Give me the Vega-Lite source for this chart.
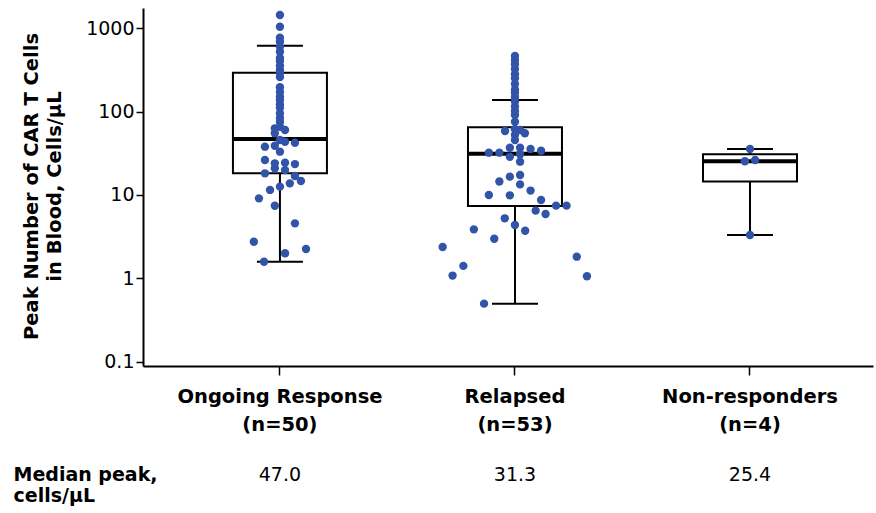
{
  "$schema": "https://vega.github.io/schema/vega-lite/v6.json",
  "width": 730,
  "height": 358,
  "autosize": {"type": "none"},
  "padding": {"left": 143, "top": 8, "right": 3, "bottom": 147},
  "background": "white",
  "config": {
    "view": {"stroke": null},
    "font": "DejaVu Sans",
    "axis": {"labelFont": "DejaVu Sans", "titleFont": "DejaVu Sans", "domainColor": "black", "tickColor": "black", "labelColor": "black", "titleColor": "black", "grid": false}
  },
  "datasets": {
    "boxes": [
      {"group": "Ongoing Response (n=50)", "medianLabel": "47.0", "lower": 1.58, "q1": 18.2, "median": 47.0, "q3": 293, "upper": 618},
      {"group": "Relapsed (n=53)", "medianLabel": "31.3", "lower": 0.497, "q1": 7.38, "median": 31.3, "q3": 64.9, "upper": 138},
      {"group": "Non-responders (n=4)", "medianLabel": "25.4", "lower": 3.31, "q1": 14.5, "median": 25.4, "q3": 30.8, "upper": 35.6}
    ],
    "points": [
      {"group": "Ongoing Response (n=50)", "value": 1445, "jitter": 0},
      {"group": "Ongoing Response (n=50)", "value": 1045, "jitter": 0},
      {"group": "Ongoing Response (n=50)", "value": 771, "jitter": 0},
      {"group": "Ongoing Response (n=50)", "value": 690, "jitter": 0},
      {"group": "Ongoing Response (n=50)", "value": 601, "jitter": 0},
      {"group": "Ongoing Response (n=50)", "value": 524, "jitter": 0},
      {"group": "Ongoing Response (n=50)", "value": 440, "jitter": 0},
      {"group": "Ongoing Response (n=50)", "value": 405, "jitter": 0},
      {"group": "Ongoing Response (n=50)", "value": 356, "jitter": 0},
      {"group": "Ongoing Response (n=50)", "value": 316, "jitter": 0},
      {"group": "Ongoing Response (n=50)", "value": 289, "jitter": 0},
      {"group": "Ongoing Response (n=50)", "value": 260, "jitter": 0},
      {"group": "Ongoing Response (n=50)", "value": 196, "jitter": 0},
      {"group": "Ongoing Response (n=50)", "value": 172, "jitter": 0},
      {"group": "Ongoing Response (n=50)", "value": 151, "jitter": 0},
      {"group": "Ongoing Response (n=50)", "value": 138, "jitter": 0},
      {"group": "Ongoing Response (n=50)", "value": 122, "jitter": 0},
      {"group": "Ongoing Response (n=50)", "value": 111, "jitter": 0},
      {"group": "Ongoing Response (n=50)", "value": 95.5, "jitter": 0},
      {"group": "Ongoing Response (n=50)", "value": 83.9, "jitter": 0},
      {"group": "Ongoing Response (n=50)", "value": 75.1, "jitter": 0},
      {"group": "Ongoing Response (n=50)", "value": 65.9, "jitter": 0},
      {"group": "Ongoing Response (n=50)", "value": 63.1, "jitter": -0.17},
      {"group": "Ongoing Response (n=50)", "value": 60.2, "jitter": 0.17},
      {"group": "Ongoing Response (n=50)", "value": 55.0, "jitter": -0.17},
      {"group": "Ongoing Response (n=50)", "value": 43.6, "jitter": 0.17},
      {"group": "Ongoing Response (n=50)", "value": 45.7, "jitter": 0},
      {"group": "Ongoing Response (n=50)", "value": 39.0, "jitter": -0.17},
      {"group": "Ongoing Response (n=50)", "value": 38.0, "jitter": -0.5},
      {"group": "Ongoing Response (n=50)", "value": 42.4, "jitter": 0.5},
      {"group": "Ongoing Response (n=50)", "value": 33.1, "jitter": 0},
      {"group": "Ongoing Response (n=50)", "value": 26.3, "jitter": -0.5},
      {"group": "Ongoing Response (n=50)", "value": 24.0, "jitter": -0.17},
      {"group": "Ongoing Response (n=50)", "value": 24.4, "jitter": 0.17},
      {"group": "Ongoing Response (n=50)", "value": 23.5, "jitter": 0.5},
      {"group": "Ongoing Response (n=50)", "value": 20.9, "jitter": -0.17},
      {"group": "Ongoing Response (n=50)", "value": 19.9, "jitter": 0.17},
      {"group": "Ongoing Response (n=50)", "value": 18.2, "jitter": -0.5},
      {"group": "Ongoing Response (n=50)", "value": 16.9, "jitter": 0.5},
      {"group": "Ongoing Response (n=50)", "value": 14.7, "jitter": 0.7},
      {"group": "Ongoing Response (n=50)", "value": 13.8, "jitter": 0.33},
      {"group": "Ongoing Response (n=50)", "value": 12.6, "jitter": 0},
      {"group": "Ongoing Response (n=50)", "value": 11.5, "jitter": -0.33},
      {"group": "Ongoing Response (n=50)", "value": 9.12, "jitter": -0.7},
      {"group": "Ongoing Response (n=50)", "value": 7.44, "jitter": -0.17},
      {"group": "Ongoing Response (n=50)", "value": 4.57, "jitter": 0.5},
      {"group": "Ongoing Response (n=50)", "value": 2.75, "jitter": -0.87},
      {"group": "Ongoing Response (n=50)", "value": 2.25, "jitter": 0.87},
      {"group": "Ongoing Response (n=50)", "value": 2.0, "jitter": 0.17},
      {"group": "Ongoing Response (n=50)", "value": 1.58, "jitter": -0.53},
      {"group": "Relapsed (n=53)", "value": 466, "jitter": 0},
      {"group": "Relapsed (n=53)", "value": 417, "jitter": 0},
      {"group": "Relapsed (n=53)", "value": 370, "jitter": 0},
      {"group": "Relapsed (n=53)", "value": 325, "jitter": 0},
      {"group": "Relapsed (n=53)", "value": 281, "jitter": 0},
      {"group": "Relapsed (n=53)", "value": 251, "jitter": 0},
      {"group": "Relapsed (n=53)", "value": 215, "jitter": 0},
      {"group": "Relapsed (n=53)", "value": 185, "jitter": 0},
      {"group": "Relapsed (n=53)", "value": 169, "jitter": 0},
      {"group": "Relapsed (n=53)", "value": 150, "jitter": 0},
      {"group": "Relapsed (n=53)", "value": 132, "jitter": 0},
      {"group": "Relapsed (n=53)", "value": 115, "jitter": 0},
      {"group": "Relapsed (n=53)", "value": 102, "jitter": 0},
      {"group": "Relapsed (n=53)", "value": 91.2, "jitter": 0},
      {"group": "Relapsed (n=53)", "value": 75.7, "jitter": 0},
      {"group": "Relapsed (n=53)", "value": 61.4, "jitter": 0},
      {"group": "Relapsed (n=53)", "value": 60.2, "jitter": 0.17},
      {"group": "Relapsed (n=53)", "value": 58.6, "jitter": -0.33},
      {"group": "Relapsed (n=53)", "value": 55.0, "jitter": 0.33},
      {"group": "Relapsed (n=53)", "value": 52.5, "jitter": 0},
      {"group": "Relapsed (n=53)", "value": 45.7, "jitter": 0},
      {"group": "Relapsed (n=53)", "value": 32.2, "jitter": -0.87},
      {"group": "Relapsed (n=53)", "value": 32.2, "jitter": -0.52},
      {"group": "Relapsed (n=53)", "value": 36.9, "jitter": -0.17},
      {"group": "Relapsed (n=53)", "value": 36.9, "jitter": 0.17},
      {"group": "Relapsed (n=53)", "value": 35.6, "jitter": 0.52},
      {"group": "Relapsed (n=53)", "value": 34.0, "jitter": 0.87},
      {"group": "Relapsed (n=53)", "value": 28.8, "jitter": -0.17},
      {"group": "Relapsed (n=53)", "value": 30.8, "jitter": 0.17},
      {"group": "Relapsed (n=53)", "value": 25.1, "jitter": 0.17},
      {"group": "Relapsed (n=53)", "value": 16.6, "jitter": -0.17},
      {"group": "Relapsed (n=53)", "value": 17.4, "jitter": 0.17},
      {"group": "Relapsed (n=53)", "value": 14.5, "jitter": -0.52},
      {"group": "Relapsed (n=53)", "value": 13.4, "jitter": 0.17},
      {"group": "Relapsed (n=53)", "value": 11.3, "jitter": 0.52},
      {"group": "Relapsed (n=53)", "value": 10.0, "jitter": -0.87},
      {"group": "Relapsed (n=53)", "value": 9.91, "jitter": -0.17},
      {"group": "Relapsed (n=53)", "value": 8.71, "jitter": 0.87},
      {"group": "Relapsed (n=53)", "value": 7.45, "jitter": 1.37},
      {"group": "Relapsed (n=53)", "value": 7.45, "jitter": 1.72},
      {"group": "Relapsed (n=53)", "value": 6.49, "jitter": 0.69},
      {"group": "Relapsed (n=53)", "value": 5.92, "jitter": 1.02},
      {"group": "Relapsed (n=53)", "value": 5.25, "jitter": -0.34},
      {"group": "Relapsed (n=53)", "value": 4.36, "jitter": 0},
      {"group": "Relapsed (n=53)", "value": 3.73, "jitter": 0.34},
      {"group": "Relapsed (n=53)", "value": 3.87, "jitter": -1.37},
      {"group": "Relapsed (n=53)", "value": 2.99, "jitter": -0.69},
      {"group": "Relapsed (n=53)", "value": 2.38, "jitter": -2.41},
      {"group": "Relapsed (n=53)", "value": 1.41, "jitter": -1.72},
      {"group": "Relapsed (n=53)", "value": 1.08, "jitter": -2.08},
      {"group": "Relapsed (n=53)", "value": 1.82, "jitter": 2.06},
      {"group": "Relapsed (n=53)", "value": 1.06, "jitter": 2.4},
      {"group": "Relapsed (n=53)", "value": 0.497, "jitter": -1.03},
      {"group": "Non-responders (n=4)", "value": 35.6, "jitter": 0},
      {"group": "Non-responders (n=4)", "value": 25.4, "jitter": -0.17},
      {"group": "Non-responders (n=4)", "value": 26.3, "jitter": 0.17},
      {"group": "Non-responders (n=4)", "value": 3.31, "jitter": 0}
    ]
  },
  "layer": [
    {
      "data": {"name": "boxes"},
      "encoding": {
        "x": {
          "field": "group", "type": "nominal", "sort": null,
          "scale": {"type": "band", "paddingInner": 0.6, "paddingOuter": 0.353, "align": 0.542},
          "axis": {
            "title": null, "labelAngle": 0, "labelFontSize": 19.5, "labelFontWeight": "bold",
            "labelLineHeight": 28, "labelPadding": 12, "labelBaseline": "top", "labelLimit": 0,
            "tickSize": 9, "tickWidth": 1.5, "domainWidth": 2,
            "labelExpr": "[slice(datum.label, 0, indexof(datum.label, ' (')), slice(datum.label, indexof(datum.label, ' (') + 1)]"
          }
        }
      },
      "layer": [
        {
          "mark": {"type": "rule", "color": "black", "strokeWidth": 2},
          "encoding": {
            "y": {
              "field": "lower", "type": "quantitative",
              "scale": {"type": "log", "domain": [0.0888, 1752], "nice": false},
              "axis": {
                "title": ["Peak Number of CAR T Cells", "in Blood, Cells/μL"],
                "values": [0.1, 1, 10, 100, 1000], "format": "~g",
                "labelFontSize": 19, "labelPadding": 2, "tickSize": 7, "tickWidth": 1.5, "domainWidth": 2,
                "titleFontSize": 19.5, "titleFontWeight": "bold", "titleLineHeight": 23,
                "titleX": -102, "titleY": 178, "titleAngle": -90, "titleBaseline": "bottom", "titleAlign": "center"
              }
            },
            "y2": {"field": "upper"}
          }
        },
        {
          "mark": {"type": "bar", "fill": "white", "stroke": "black", "strokeWidth": 2, "size": 94, "orient": "vertical"},
          "encoding": {
            "y": {"field": "q1", "type": "quantitative", "scale": {"type": "log", "domain": [0.0888, 1752], "nice": false}},
            "y2": {"field": "q3"}
          }
        },
        {
          "mark": {"type": "tick", "color": "black", "opacity": 1, "size": 46, "thickness": 2},
          "encoding": {
            "y": {"field": "lower", "type": "quantitative", "scale": {"type": "log", "domain": [0.0888, 1752], "nice": false}}
          }
        },
        {
          "mark": {"type": "tick", "color": "black", "opacity": 1, "size": 46, "thickness": 2},
          "encoding": {
            "y": {"field": "upper", "type": "quantitative", "scale": {"type": "log", "domain": [0.0888, 1752], "nice": false}}
          }
        }
      ]
    },
    {
      "data": {"name": "boxes"},
      "mark": {"type": "tick", "color": "black", "opacity": 1, "size": 94, "thickness": 4},
      "encoding": {
        "x": {
          "field": "medianLabel", "type": "nominal", "sort": null,
          "scale": {"type": "band", "paddingInner": 0.6, "paddingOuter": 0.353, "align": 0.542},
          "axis": {
            "orient": "bottom", "offset": 100, "domain": false, "ticks": false, "tickSize": 0,
            "labelPadding": 14, "labelBaseline": "alphabetic", "labelAngle": 0,
            "labelFontSize": 19, "labelFontWeight": "normal",
            "title": ["Median peak,", "cells/μL"], "titleAngle": 0, "titleAlign": "left",
            "titleBaseline": "alphabetic", "titleX": -130, "titleY": 14,
            "titleFontSize": 19, "titleFontWeight": "bold", "titleLineHeight": 21.5
          }
        },
        "y": {"field": "median", "type": "quantitative", "scale": {"type": "log", "domain": [0.0888, 1752], "nice": false}}
      }
    },
    {
      "data": {"name": "points"},
      "mark": {"type": "circle", "size": 70, "color": "#3254a8", "opacity": 1},
      "encoding": {
        "x": {
          "field": "group", "type": "nominal", "sort": null,
          "scale": {"type": "band", "paddingInner": 0.6, "paddingOuter": 0.353, "align": 0.542},
          "axis": null
        },
        "xOffset": {"field": "jitter", "type": "quantitative", "scale": {"domain": [-1, 1], "range": [17, 77]}},
        "y": {"field": "value", "type": "quantitative", "scale": {"type": "log", "domain": [0.0888, 1752], "nice": false}}
      }
    }
  ],
  "resolve": {"scale": {"x": "independent"}, "axis": {"x": "independent"}}
}
